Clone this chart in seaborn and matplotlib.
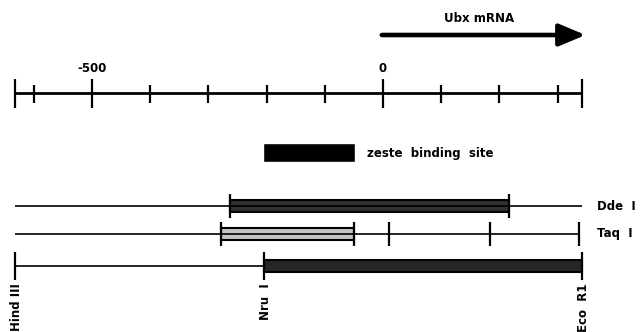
import matplotlib
matplotlib.use("Agg")
import matplotlib.pyplot as plt
import seaborn as sns

# scale in bp, 0 = Ubx transcription start
scale_start, scale_end = -632, 342
minor_ticks = [-600, -400, -300, -200, -100, 100, 200, 300]
major_ticks = [-632, -500, 0, 342]
major_labels = {-500: "-500", 0: "0"}

mrna_start, mrna_end = 0, 348

# zeste legend box
legend_box = (-206, -48)

# restriction fragments: label, line end, bar start/end, bar colour, tick positions
row_names = ["Dde  I", "Taq  I", ""]
row_line_end = [342, 337, -204]
row_bar_start = [-263, -278, -204]
row_bar_end = [216, -50, 342]
row_bar_color = ["#303030", "#c4c4c4", "#262626"]
row_ticks = [[-263, 216], [-278, -50, 10, 184, 337], [-632, -204, 342]]

sites = ["Hind III", "Nru  I", "Eco  R1"]
site_pos = [-632, -204, 342]

sns.set_theme(style="white")
plt.rcParams['font.family'] = ['DejaVu Sans']
plt.rcParams['text.color'] = 'black'

fig = plt.figure(figsize=(6.44, 3.32), dpi=100)
ax = fig.add_axes([0, 0, 1, 1])
# px = 383 + 0.582 * bp
ax.set_xlim(-383 / 0.582, (644 - 383) / 0.582)
ax.set_ylim(332, 0)
ax.set_axis_off()

# mRNA arrow
ax.annotate("", xy=(mrna_end, 35), xytext=(mrna_start - 2, 35),
            arrowprops=dict(arrowstyle="-|>,head_length=1.0,head_width=0.42",
                            lw=3.3, color="black", mutation_scale=16,
                            shrinkA=0, shrinkB=0))
ax.text(165, 18, "Ubx mRNA", ha="center", va="center", fontsize=8.5, fontweight="bold")

# scale bar
ax.hlines(93, scale_start, scale_end, color="black", lw=2)
ax.vlines(minor_ticks, 85, 103, color="black", lw=1.6)
ax.vlines(major_ticks, 79, 108, color="black", lw=1.6)
for x, lab in major_labels.items():
    ax.text(x, 68, lab, ha="center", va="center", fontsize=8.5, fontweight="bold")

# legend
ax.barh(152.5, legend_box[1] - legend_box[0], left=legend_box[0], height=19,
        color="black")
ax.text(-27, 154, "zeste  binding  site", ha="left", va="center",
        fontsize=8.5, fontweight="bold")

# fragments
row_y = [206, 234, 266]
for i, y in enumerate(row_y):
    ax.hlines(y, scale_start, row_line_end[i], color="black", lw=1.2)
    ax.barh(y, row_bar_end[i] - row_bar_start[i], left=row_bar_start[i],
            height=12, color=row_bar_color[i], edgecolor="black", lw=1.5)
    half = 14 if i == 2 else 12
    ax.vlines(row_ticks[i], y - half, y + half, color="black", lw=1.6)
    if row_names[i]:
        ax.text(367, y, row_names[i], ha="left", va="center",
                fontsize=8.5, fontweight="bold")

for x, lab in zip(site_pos, sites):
    ax.text(x + 2, 283, lab, ha="center", va="top", rotation=90,
            fontsize=8.5, fontweight="bold")

fig.savefig("out.png", dpi=100)
